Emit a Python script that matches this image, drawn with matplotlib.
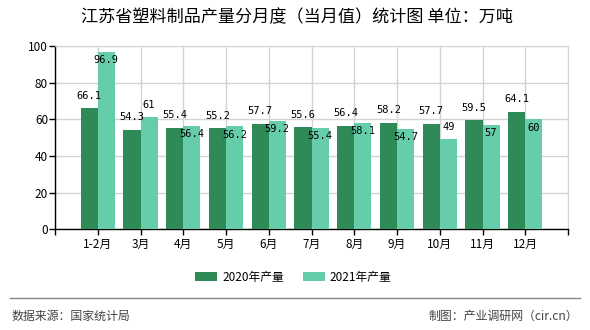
import numpy as np
import matplotlib
matplotlib.use('Agg')
import matplotlib.pyplot as plt

plt.rcParams['font.family'] = ['Noto Sans CJK SC', 'DejaVu Sans']

# data
months = ['1-2月', '3月', '4月', '5月', '6月', '7月', '8月', '9月', '10月', '11月', '12月']
output_2020 = [66.1, 54.3, 55.4, 55.2, 57.7, 55.6, 56.4, 58.2, 57.7, 59.5, 64.1]
output_2021 = [96.9, 61, 56.4, 56.2, 59.2, 55.4, 58.1, 54.7, 49, 57, 60]
labels_2021 = ['96.9', '61', '56.4', '56.2', '59.2', '55.4', '58.1', '54.7', '49', '57', '60']
labels_2020 = ['66.1', '54.3', '55.4', '55.2', '57.7', '55.6', '56.4', '58.2', '57.7', '59.5', '64.1']
# which 2021 labels sit inside the bar top in the reference
inside_2021 = [True, False, True, True, True, True, True, True, False, True, True]

c2020 = '#2E8B57'
c2021 = '#66CDAA'

fig = plt.figure(figsize=(5.9, 3.3), dpi=100)
ax = fig.add_axes([55 / 590, 1 - 229.3 / 330, 513 / 590, 183.3 / 330])

x = np.arange(len(months))
w = 0.4
b1 = ax.bar(x - w / 2, output_2020, width=w, color=c2020, zorder=3, label='2020年产量')
b2 = ax.bar(x + w / 2, output_2021, width=w, color=c2021, zorder=3, label='2021年产量')

lab_font = dict(family='DejaVu Sans Mono', fontsize=7.5, color='black')
for rect, txt in zip(b1, labels_2020):
    ax.annotate(txt, (rect.get_x() + rect.get_width() / 2, rect.get_height()),
                xytext=(0, 9), textcoords='offset points', ha='center', va='center',
                zorder=5, **lab_font)
for rect, txt, inside in zip(b2, labels_2021, inside_2021):
    dy = -6 if inside else 9
    ax.annotate(txt, (rect.get_x() + rect.get_width() / 2, rect.get_height()),
                xytext=(0, dy), textcoords='offset points', ha='center', va='center',
                zorder=5, **lab_font)

ax.set_xlim(-1, len(months))
ax.set_ylim(0, 100)
ax.set_yticks([0, 20, 40, 60, 80, 100])
ax.set_xticks(np.arange(-1, len(months) + 1))
ax.set_xticklabels([''] + months + [''])
ax.tick_params(axis='x', length=4, width=1, labelsize=8.5, pad=2)
ax.tick_params(axis='y', length=4, width=1, labelsize=8.5, pad=1)
ax.grid(True, color='#d3d3d3', linewidth=1, zorder=0)

for s in ['top', 'right']:
    ax.spines[s].set_color('#d3d3d3')
for s in ['left', 'bottom']:
    ax.spines[s].set_color('black')
    ax.spines[s].set_linewidth(1)

fig.text(0.503, 1 - 17.5 / 330, '江苏省塑料制品产量分月度（当月值）统计图 单位：万吨',
         ha='center', va='center', fontsize=12.3, color='black')

fig.legend(handles=[b1, b2], loc='center', bbox_to_anchor=(0.497, 1 - 277.5 / 330),
           ncol=2, frameon=False, fontsize=8.5, handlelength=1.9, handleheight=0.8,
           handletextpad=0.4, columnspacing=1.6)

fig.add_artist(plt.Line2D([10 / 590, 580 / 590], [1 - 298 / 330, 1 - 298 / 330],
                          color='#888888', linewidth=1))
fig.text(12 / 590, 1 - 316.5 / 330, '数据来源：国家统计局', ha='left', va='center',
         fontsize=8.6, color='#444444')
fig.text(578 / 590, 1 - 316.5 / 330, '制图：产业调研网（cir.cn）', ha='right', va='center',
         fontsize=8.6, color='#444444')

fig.savefig('out.png', dpi=100)
